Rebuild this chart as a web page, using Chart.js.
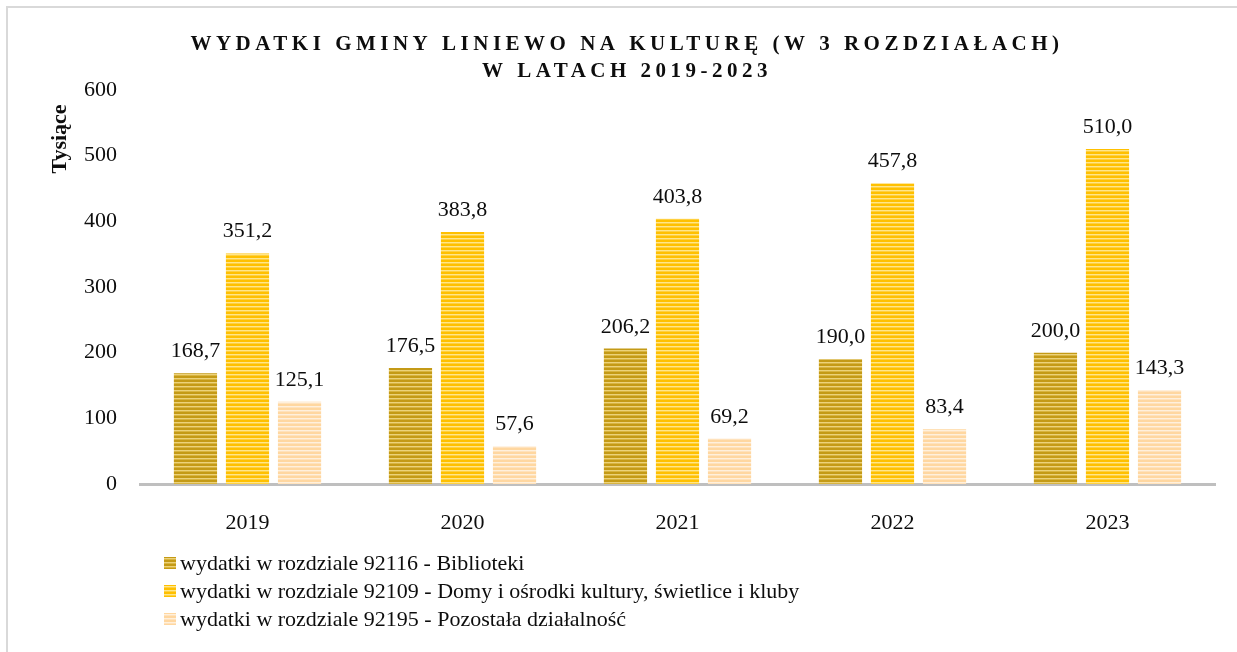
<!DOCTYPE html>
<html>
<head>
<meta charset="utf-8">
<script src="https://cdn.jsdelivr.net/npm/chart.js@4"></script>
<style>
  body { margin: 0; background: #fff; }
  #wrap { width: 1237px; height: 652px; }
</style>
</head>
<body>
<div id="wrap"><canvas id="wydatkiChart"></canvas></div>
<script>
const categories = ['2019', '2020', '2021', '2022', '2023'];
const biblioteki = [168.7, 176.5, 206.2, 190.0, 200.0];
const domyKultury = [351.2, 383.8, 403.8, 457.8, 510.0];
const pozostala = [125.1, 57.6, 69.2, 83.4, 143.3];
const seriesLabels = [
  'wydatki w rozdziale 92116 - Biblioteki',
  'wydatki w rozdziale 92109 - Domy i ośrodki kultury, świetlice i kluby',
  'wydatki w rozdziale 92195 - Pozostała działalność'
];
const titleLines = ['WYDATKI GMINY LINIEWO NA KULTURĘ (W 3 ROZDZIAŁACH)', 'W LATACH 2019-2023'];
const yAxisTitle = 'Tysiące';
const yMin = 0;
const yMax = 600;
const yStep = 100;

const FONT = '"Liberation Serif", "Times New Roman", serif';

// striped fill like the original bars
function stripes(base, light, mid) {
  const tile = document.createElement('canvas');
  tile.width = 4;
  tile.height = 4;
  const g = tile.getContext('2d');
  g.fillStyle = base;
  g.fillRect(0, 0, 4, 4);
  g.fillStyle = light;
  g.fillRect(0, 2, 4, 1);
  g.fillStyle = mid;
  g.fillRect(0, 3, 4, 1);
  return g.createPattern(tile, 'repeat');
}

const fills = [
  stripes('#c49a16', '#ecd27a', '#d8b440'),
  stripes('#ffc000', '#ffe68a', '#ffd040'),
  stripes('#ffd7a0', '#fff0dc', '#ffe2bc')
];

const borderPlugin = {
  id: 'frame',
  beforeDraw(chart) {
    const ctx = chart.ctx;
    ctx.save();
    ctx.fillStyle = '#fff';
    ctx.fillRect(0, 0, chart.width, chart.height);
    ctx.strokeStyle = '#d9d9d9';
    ctx.lineWidth = 2;
    ctx.strokeRect(7, 7, chart.width + 10, chart.height + 10);
    ctx.restore();
  }
};

const titlePlugin = {
  id: 'spacedTitle',
  afterDraw(chart) {
    const ctx = chart.ctx;
    ctx.save();
    ctx.font = 'bold 21px ' + FONT;
    ctx.letterSpacing = '4.5px';
    ctx.fillStyle = '#0d0d0d';
    ctx.textAlign = 'center';
    ctx.textBaseline = 'middle';
    ctx.fillText(titleLines[0], 627, 45);
    ctx.fillText(titleLines[1], 627, 72);
    ctx.restore();

    // y axis title, placed near the top like the original
    ctx.save();
    ctx.font = 'bold 22px ' + FONT;
    ctx.fillStyle = '#0d0d0d';
    ctx.textAlign = 'center';
    ctx.textBaseline = 'middle';
    ctx.translate(60, 139);
    ctx.rotate(-Math.PI / 2);
    ctx.fillText(yAxisTitle, 0, 0);
    ctx.restore();
  }
};

const valueLabels = {
  id: 'valueLabels',
  afterDatasetsDraw(chart) {
    const ctx = chart.ctx;
    ctx.save();
    ctx.font = '22px ' + FONT;
    ctx.fillStyle = '#0d0d0d';
    ctx.textAlign = 'center';
    ctx.textBaseline = 'alphabetic';
    chart.data.datasets.forEach((ds, i) => {
      chart.getDatasetMeta(i).data.forEach((bar, j) => {
        const txt = ds.data[j].toFixed(1).replace('.', ',');
        ctx.fillText(txt, bar.x, bar.y - 16);
      });
    });
    ctx.restore();
  }
};

const legendPlugin = {
  id: 'stackedLegend',
  afterDraw(chart) {
    const ctx = chart.ctx;
    ctx.save();
    ctx.font = '22px ' + FONT;
    ctx.textBaseline = 'middle';
    chart.data.datasets.forEach((ds, i) => {
      const y = 563 + i * 28;
      ctx.fillStyle = ds.backgroundColor;
      ctx.fillRect(164, y - 6, 12, 12);
      ctx.fillStyle = '#0d0d0d';
      ctx.fillText(ds.label, 180, y + 1);
    });
    ctx.restore();
  }
};

const ctx = document.getElementById('wydatkiChart').getContext('2d');
new Chart(ctx, {
  type: 'bar',
  data: {
    labels: categories,
    datasets: [
      { label: seriesLabels[0], data: biblioteki, backgroundColor: fills[0] },
      { label: seriesLabels[1], data: domyKultury, backgroundColor: fills[1] },
      { label: seriesLabels[2], data: pozostala, backgroundColor: fills[2] }
    ]
  },
  options: {
    responsive: true,
    maintainAspectRatio: false,
    animation: false,
    events: [],
    categoryPercentage: 0.726,
    barPercentage: 0.83,
    layout: {
      padding: { left: 43, right: 22, top: 90, bottom: 108 }
    },
    plugins: {
      legend: { display: false },
      title: { display: false },
      tooltip: { enabled: false }
    },
    scales: {
      x: {
        grid: { display: false },
        border: { display: true, color: '#bfbfbf', width: 3 },
        ticks: {
          color: '#0d0d0d',
          padding: 18,
          font: { family: FONT, size: 22 }
        },
        afterFit(scale) { scale.height = 60; }
      },
      y: {
        min: yMin,
        max: yMax,
        grid: { display: false },
        border: { display: false },
        ticks: {
          stepSize: yStep,
          color: '#0d0d0d',
          padding: 15,
          font: { family: FONT, size: 22 }
        },
        afterFit(scale) { scale.width = 97; }
      }
    }
  },
  plugins: [borderPlugin, valueLabels, titlePlugin, legendPlugin]
});
</script>
</body>
</html>
